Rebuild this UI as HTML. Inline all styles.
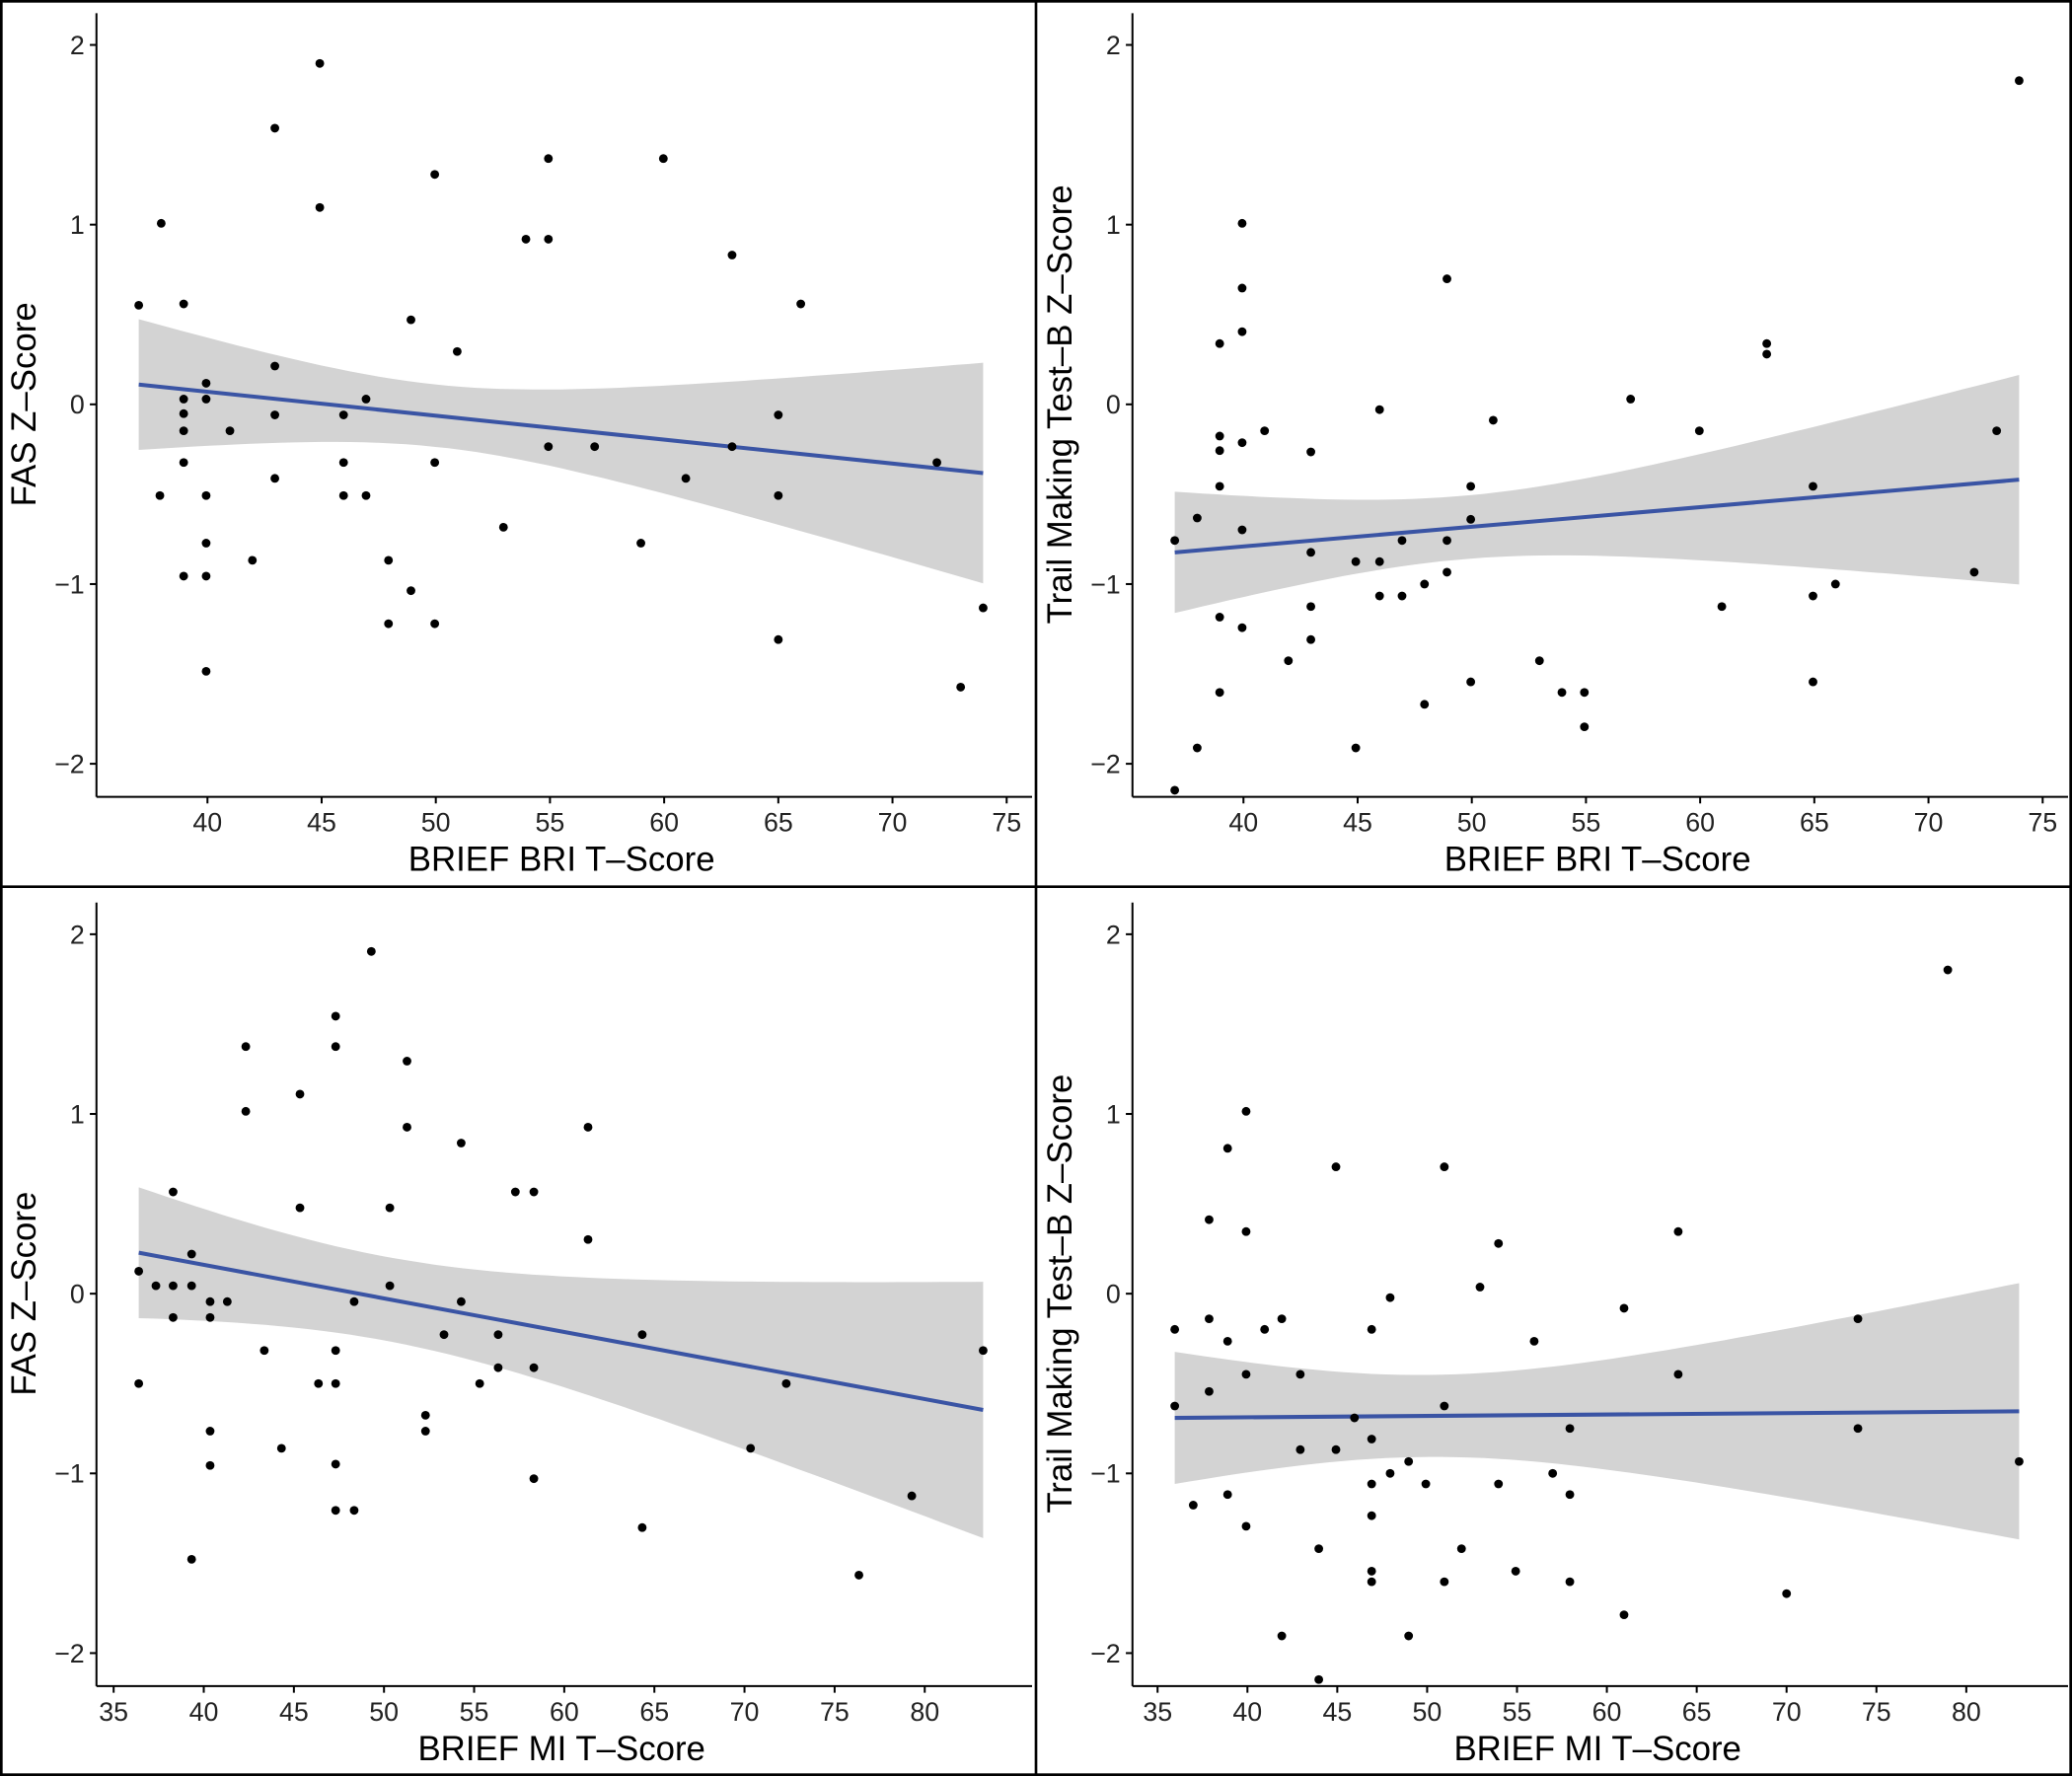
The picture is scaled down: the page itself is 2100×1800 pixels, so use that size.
<!DOCTYPE html>
<html><head><meta charset="utf-8"><style>html,body{margin:0;padding:0;background:#fff}svg{display:block}</style></head>
<body>
<svg id="s" xmlns="http://www.w3.org/2000/svg" width="2100" height="1800" viewBox="0 0 1568 1344" font-family="Liberation Sans, sans-serif">
<rect x="0" y="0" width="1568" height="1344" fill="#fff"/>
<rect x="1" y="1" width="1566" height="1342" fill="none" stroke="#000" stroke-width="2"/>
<line x1="784" y1="0" x2="784" y2="1344" stroke="#000" stroke-width="2"/>
<line x1="0" y1="671" x2="1568" y2="671" stroke="#000" stroke-width="2"/>
</svg>
<script>
const s=document.getElementById('s');const NS='http://www.w3.org/2000/svg';
function el(t,a,txt){const e=document.createElementNS(NS,t);for(const k in a)e.setAttribute(k,a[k]);if(txt!==undefined)e.textContent=txt;s.appendChild(e);return e;}
function panel(o){
 const [x1,y1,x2,y2]=o.l;const ly=x=>y1+(y2-y1)*(x-x1)/(x2-x1);
 const h=x=>Math.sqrt(o.h0*o.h0+o.k2*(x-o.xm)*(x-o.xm));
 let up=[],lo=[];for(let i=0;i<=60;i++){const x=x1+(x2-x1)*i/60;up.push([x,ly(x)-h(x)]);lo.push([x,ly(x)+h(x)]);}
 const d='M'+up.map(p=>p[0].toFixed(1)+','+p[1].toFixed(1)).join(' L')+' L'+lo.reverse().map(p=>p[0].toFixed(1)+','+p[1].toFixed(1)).join(' L')+'Z';
 el('path',{d:d,fill:'#d3d3d3'});
 el('line',{x1:x1,y1:y1,x2:x2,y2:y2,stroke:'#3a54a4','stroke-width':3});
 o.pts.forEach(p=>el('circle',{cx:p[0],cy:p[1],r:3.3,fill:'#000'}));
 el('line',{x1:o.ax,y1:o.top,x2:o.ax,y2:o.ay,stroke:'#000','stroke-width':1.5});
 el('line',{x1:o.ax,y1:o.ay,x2:o.ax+708,y2:o.ay,stroke:'#000','stroke-width':1.5});
 o.yt.forEach(([v,y])=>{el('line',{x1:o.ax-5,y1:y,x2:o.ax,y2:y,stroke:'#000','stroke-width':1.5});
  el('text',{x:o.ax-9,y:y+7,'text-anchor':'end','font-size':20,fill:'#222'},v);});
 o.xt.forEach(([v,x])=>{el('line',{x1:x,y1:o.ay,x2:x,y2:o.ay+5,stroke:'#000','stroke-width':1.5});
  el('text',{x:x,y:o.ay+26,'text-anchor':'middle','font-size':20,fill:'#222'},v);});
 el('text',{x:o.xtx,y:o.ay+56,'text-anchor':'middle','font-size':26,fill:'#000'},o.xtitle);
 el('text',{x:0,y:0,'text-anchor':'middle','font-size':26,fill:'#000',transform:'translate('+(o.ax-46)+','+o.ytc+') rotate(-90)'},o.ytitle);
}
function yt(z){return [['2',z-272],['1',z-136],['0',z],['\u22121',z+136],['\u22122',z+272]];}
function xt(vals,x0,step){return vals.map((v,i)=>[String(v),x0+i*step]);}
panel({ax:73,ay:603,top:10,yt:yt(306),xt:xt([40,45,50,55,60,65,70,75],157,86.4),xtx:425,ytc:306,
 xtitle:'BRIEF BRI T\u2013Score',ytitle:'FAS Z\u2013Score',h0:23.6,k2:0.0374,xm:330,
 l:[105,291,744,358],
 pts:[[105,231],[122,169],[139,230],[208,97],[242,48],[242,157],[121,375],[139,436],[139,350],[139,313],[139,302],[139,326],[156,375],[156,411],[156,436],[156,508],[156,290],[156,302],[174,326],[191,424],[208,277],[208,314],[208,362],[260,314],[260,350],[260,375],[277,302],[277,375],[294,424],[294,472],[311,242],[311,447],[329,132],[329,350],[329,472],[346,266],[381,399],[398,181],[415,181],[415,120],[415,338],[450,338],[485,411],[502,120],[519,362],[554,193],[554,338],[589,314],[589,375],[589,484],[606,230],[709,350],[727,520],[744,460]]});
panel({ax:857,ay:603,top:10,yt:yt(306),xt:xt([40,45,50,55,60,65,70,75],941,86.4),xtx:1209,ytc:306,
 xtitle:'BRIEF BRI T\u2013Score',ytitle:'Trail Making Test\u2013B Z\u2013Score',h0:24,k2:0.0322,xm:1107,
 l:[889,418,1528,363],
 pts:[[889,409],[889,598],[906,392],[906,566],[923,260],[923,330],[923,341],[923,368],[923,467],[923,524],[940,169],[940,218],[940,251],[940,335],[940,401],[940,475],[957,326],[975,500],[992,342],[992,418],[992,459],[992,484],[1026,425],[1026,566],[1044,310],[1044,425],[1044,451],[1061,451],[1061,409],[1078,533],[1078,442],[1095,211],[1095,409],[1095,433],[1113,368],[1113,393],[1113,516],[1130,318],[1165,500],[1182,524],[1199,524],[1199,550],[1234,302],[1286,326],[1303,459],[1337,260],[1337,268],[1372,368],[1372,451],[1372,516],[1389,442],[1494,433],[1511,326],[1528,61]]});
panel({ax:73,ay:1276,top:683,yt:yt(979),xt:xt([35,40,45,50,55,60,65,70,75,80],86,68.2),xtx:425,ytc:979,
 xtitle:'BRIEF MI T\u2013Score',ytitle:'FAS Z\u2013Score',h0:31.8,k2:0.0411,xm:292,
 l:[105,948,744,1067],
 pts:[[105,962],[105,1047],[118,973],[131,902],[131,973],[131,997],[145,973],[145,949],[159,985],[159,997],[159,1083],[159,1109],[145,1180],[172,985],[186,792],[186,841],[200,1022],[213,1096],[227,828],[227,914],[241,1047],[254,769],[254,792],[254,1022],[254,1047],[254,1108],[254,1143],[268,985],[268,1143],[281,720],[295,914],[295,973],[308,803],[308,853],[322,1071],[322,1083],[336,1010],[349,865],[349,985],[363,1047],[377,1010],[377,1035],[390,902],[404,902],[404,1035],[404,1119],[445,853],[445,938],[486,1010],[486,1156],[568,1096],[595,1047],[650,1192],[690,1132],[744,1022]]});
panel({ax:857,ay:1276,top:683,yt:yt(979),xt:xt([35,40,45,50,55,60,65,70,75,80],876,68),xtx:1209,ytc:979,
 xtitle:'BRIEF MI T\u2013Score',ytitle:'Trail Making Test\u2013B Z\u2013Score',h0:31,k2:0.0421,xm:1080,
 l:[889,1073,1528,1068],
 pts:[[889,1006],[889,1064],[903,1139],[915,923],[915,998],[915,1053],[929,1015],[929,1131],[929,869],[943,841],[943,932],[943,1040],[943,1155],[957,1006],[970,998],[970,1238],[984,1097],[984,1040],[998,1172],[998,1271],[1011,883],[1011,1097],[1025,1073],[1038,1006],[1038,1089],[1038,1123],[1038,1147],[1038,1189],[1038,1197],[1052,982],[1052,1115],[1066,1106],[1066,1238],[1079,1123],[1093,883],[1093,1064],[1093,1197],[1106,1172],[1120,974],[1134,941],[1134,1123],[1147,1189],[1161,1015],[1175,1115],[1188,1081],[1188,1131],[1188,1197],[1229,990],[1229,1222],[1270,932],[1270,1040],[1352,1206],[1406,998],[1406,1081],[1474,734],[1528,1106]]});
</script>
</body></html>
